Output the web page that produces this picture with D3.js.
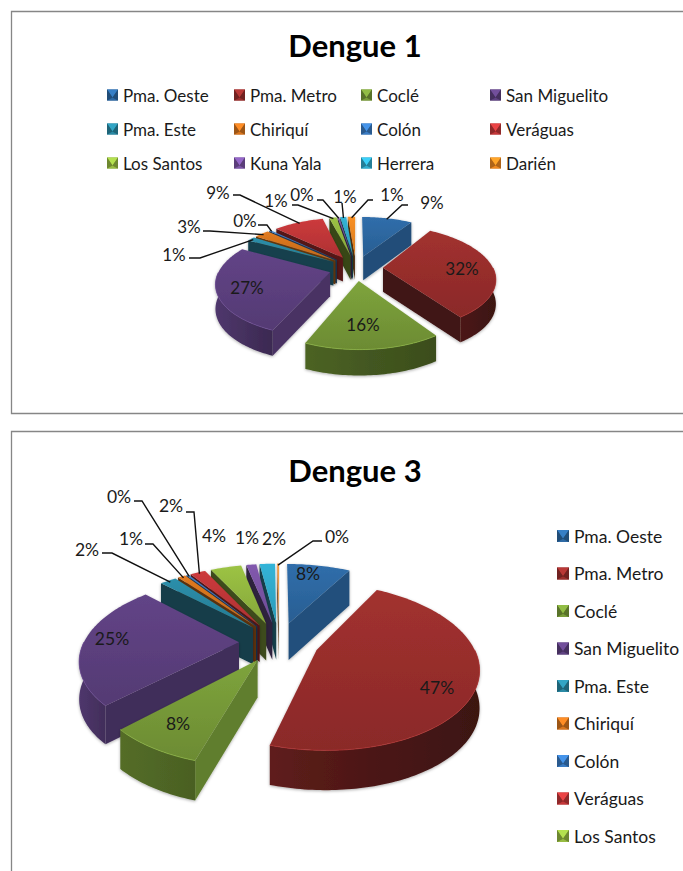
<!DOCTYPE html>
<html>
<head>
<meta charset="utf-8">
<script src="https://cdn.jsdelivr.net/npm/d3@7/dist/d3.min.js"></script>
<style>
html,body{margin:0;padding:0;background:#fff;}
svg{display:block;}
text{font-family:Lato,"Open Sans",sans-serif;fill:#1a1a1a;}
</style>
</head>
<body>
<svg id="c" width="683" height="871"></svg>
<script>
const categories = ["Pma. Oeste","Pma. Metro","Coclé","San Miguelito","Pma. Este","Chiriquí","Colón","Veráguas","Los Santos","Kuna Yala","Herrera","Darién"];
const colors = ["#2e6aa5","#9c2f2d","#7a9e3a","#5f4282","#2a8aa5","#d9761f","#3a7cc4","#c5383a","#97bc42","#7d56a8","#31aed0","#f08a22"];
const dengue1Values = [9.1,32,16,27,1.4,2.6,0.3,9,1.3,0.3,1.1,1.3];
const dengue3Values = [8.2,47,8,25,2.1,1,0.3,2,4,1.3,2,0.2];
const dengue3Legend = categories.slice(0,9);

// Layout of the data labels: text centre and leader elbow; leaders end on the slice they name.
const labels1 = [
  {t:[432,202],e:[[408,205],[402,205]]},
  {t:[462,268]},{t:[363,324]},{t:[247,287]},
  {t:[174,254],e:[[189,258],[200,258]]},
  {t:[189,226],e:[[203,231],[210,231]]},
  {t:[245,220],e:[[258,225],[267,225]]},
  {t:[218,192],e:[[233,195],[240,195]]},
  {t:[276,200],e:[[292,205],[298,205]]},
  {t:[302,194],e:[[317,200],[323,200]]},
  {t:[345,196],e:[[342,203]]},
  {t:[392,194],e:[[373,200],[368,200]]}
];
const labels3 = [
  {t:[308,573]},{t:[437,687]},{t:[178,723]},{t:[112,638]},
  {t:[87,549],e:[[102,553],[112,553]]},
  {t:[131,538],e:[[145,544],[153,544]]},
  {t:[119,496],e:[[134,501],[142,501]]},
  {t:[171,505],e:[[186,512],[194,512]]},
  {t:[214,535]},{t:[247,537]},{t:[274,538]},
  {t:[337,536],e:[[322,541],[313,541]]}
];

const svg = d3.select("#c");
const defs = svg.append("defs");
const shadow = defs.append("filter").attr("id","sh").attr("x","-20%").attr("y","-20%").attr("width","140%").attr("height","140%");
shadow.append("feDropShadow").attr("dx",0).attr("dy",1).attr("stdDeviation",1.6).attr("flood-color","#000").attr("flood-opacity",.32);

let uid = 0;
function gradient(stops, vertical){
  const id = "g"+(uid++);
  const g = defs.append("linearGradient").attr("id",id)
    .attr("x1",0).attr("y1",0).attr("x2",vertical?0:1).attr("y2",vertical?1:0);
  stops.forEach((c,i)=>g.append("stop").attr("offset",i/(stops.length-1)).attr("stop-color",c));
  return "url(#"+id+")";
}
const dark = (c,k)=>d3.color(c).darker(k).formatHex();
const lineGen = d3.line();

function frame(x,y,bottom){
  svg.append("path").attr("d",`M684,${y}H${x}V${bottom}${bottom<860?"H684":""}`)
    .attr("fill","#fff").attr("stroke","#868686").attr("stroke-width",1.3);
}

function pie3d(values, labels, o){
  const arcs = d3.pie().sort(null).value(d=>d)(values);
  const R = o.R;
  const P = (d,a,r,down) => {                  // true perspective projection of a point on slice d
    const mid=(d.startAngle+d.endAngle)/2;
    const X=o.explode*Math.sin(mid)+r*Math.sin(a), Y=o.explode*Math.cos(mid)+r*Math.cos(a);
    const s=o.D/(o.D+Y);
    const h=down?o.h*Math.pow(s,.3):0;
    return [o.cx+X*s, o.cy-Y*o.tilt*s+h];
  };
  const sample=(a0,a1)=>{const n=Math.max(2,Math.ceil((a1-a0)/.02));return d3.range(n+1).map(i=>a0+(a1-a0)*i/n);};
  const order = arcs.map((d,i)=>({d,i})).sort((p,q)=>
    Math.cos((q.d.startAngle+q.d.endAngle)/2)-Math.cos((p.d.startAngle+p.d.endAngle)/2));
  const root = svg.append("g");
  const deg=Math.PI/180;
  const wallShade=a=>Math.max(.5,2.7-(a/deg-90)/180*2.2);
  order.forEach(({d,i})=>{
    const c=colors[i], g=root.append("g").attr("filter","url(#sh)");
    const cut=(a,normal)=>{
      const k=.4+Math.abs(normal/deg-90)/140*2;
      const pts=[P(d,a,0),P(d,a,R),P(d,a,R,true),P(d,a,0,true)];
      g.append("path").attr("d",lineGen(pts)+"Z").attr("fill",dark(c,k));
    };
    if(Math.sin(d.startAngle)<0) cut(d.startAngle,d.startAngle-90*deg);
    if(Math.sin(d.endAngle)>0) cut(d.endAngle,d.endAngle+90*deg);
    const w0=Math.max(d.startAngle,90*deg), w1=Math.min(d.endAngle,270*deg);
    if(w1>w0){
      const as=sample(w0,w1);
      const pts=as.map(a=>P(d,a,R)).concat(as.slice().reverse().map(a=>P(d,a,R,true)));
      g.append("path").attr("d",lineGen(pts)+"Z")
       .attr("fill",gradient([dark(c,wallShade(w1)),dark(c,wallShade((w0+w1)/2)),dark(c,wallShade(w0))],false));
    }
    const top=[P(d,0,0)].concat(sample(d.startAngle,d.endAngle).map(a=>P(d,a,R)));
    g.append("path").attr("d",lineGen(top)+"Z")
     .attr("fill",gradient([d3.color(c).brighter(.1).formatHex(),dark(c,.35)],true));
    if(w1>w0){
      g.append("path").attr("d",lineGen(sample(w0,w1).map(a=>P(d,a,R))))
       .attr("fill","none").attr("stroke",d3.color(c).brighter(.35).formatHex()).attr("stroke-width",.8);
    }
  });
  labels.forEach((l,i)=>{
    if(l.e){
      const d=arcs[i], mid=(d.startAngle+d.endAngle)/2;
      const end=P(d,mid,R*.97);
      svg.append("path").attr("d",lineGen(l.e.concat([end])))
        .attr("fill","none").attr("stroke","#111").attr("stroke-width",1.4);
    }
    svg.append("text").attr("x",l.t[0]).attr("y",l.t[1]).attr("text-anchor","middle")
      .attr("dominant-baseline","central").attr("font-size",o.labelSize)
      .text(Math.round(values[i])+"%");
  });
}

function swatch(g,x,y,s,c){
  const cx=x+s/2, cy=y+s/2, X=x+s, Y=y+s, q=s*.22;
  g.append("rect").attr("x",x).attr("y",y).attr("width",s).attr("height",s).attr("fill",dark(c,.5));
  const poly=(p,f)=>g.append("path").attr("d",lineGen(p)+"Z").attr("fill",f);
  poly([[x,y],[X,y],[cx,cy+q]],d3.color(c).brighter(.5).formatHex());
  poly([[x,Y],[X,Y],[cx,cy+q]],c);
  poly([[x,y],[x,Y],[cx,cy+q]],dark(c,.9));
  poly([[X,y],[X,Y],[cx,cy+q]],dark(c,.9));
}

function legend(items,xs,ys,s,size,tx,order){
  const g=svg.append("g");
  items.forEach((name,i)=>{
    const [col,row]=order(i);
    const x=xs(col), y=ys(row);
    swatch(g,x,y-s/2,s,colors[i]);
    g.append("text").attr("x",x+tx).attr("y",y).attr("dominant-baseline","central")
      .attr("font-size",size).text(name);
  });
}

// Dengue 1
frame(11.5,11.5,413.5);
svg.append("text").attr("x",355).attr("y",45).attr("text-anchor","middle").attr("dominant-baseline","central")
  .attr("font-size",31).attr("font-weight",700).style("fill","#000").text("Dengue 1");
legend(categories,
  d3.scaleOrdinal().domain([0,1,2,3]).range([107,234,361,490]),
  d3.scalePoint().domain([0,1,2]).range([95,163]),
  11,17,16,i=>[i%4,Math.floor(i/4)]);
pie3d(dengue1Values,labels1,{cx:356,cy:268,explode:27,R:110,tilt:.46,D:600,h:24,labelSize:17});

// Dengue 3
frame(11.5,431.5,871);
svg.append("text").attr("x",355).attr("y",470).attr("text-anchor","middle").attr("dominant-baseline","central")
  .attr("font-size",31).attr("font-weight",700).style("fill","#000").text("Dengue 3");
legend(dengue3Legend,
  d3.scaleOrdinal().domain([0]).range([557]),
  d3.scalePoint().domain(d3.range(9)).range([536,836]),
  12,17.5,17,i=>[0,i]);
pie3d(dengue3Values,labels3,{cx:279,cy:642,explode:40,R:155,tilt:.5,D:800,h:37,labelSize:17.5});
</script>
</body>
</html>
